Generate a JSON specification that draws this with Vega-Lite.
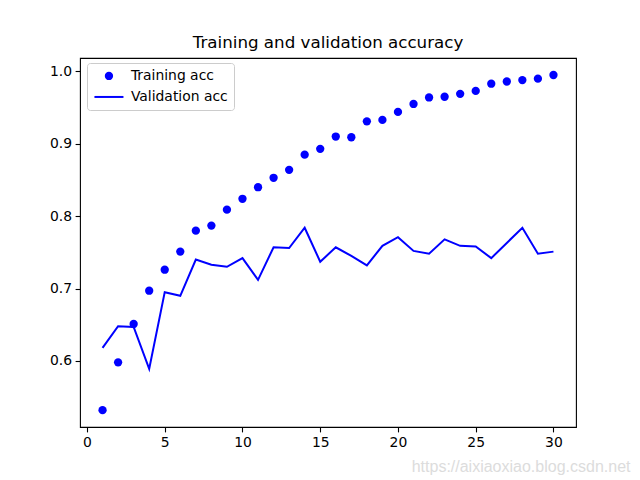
{
  "$schema": "https://vega.github.io/schema/vega-lite/v6.json",
  "width": 496,
  "height": 369,
  "autosize": {"type": "none"},
  "padding": {"left": 80, "top": 58, "right": 64, "bottom": 53},
  "background": "white",
  "title": {"text": "Training and validation accuracy", "font": "DejaVu Sans", "fontSize": 16.7, "fontWeight": "normal", "color": "black", "offset": 6},
  "config": {
    "view": {"stroke": "black", "strokeWidth": 1.1},
    "axis": {"domain": false, "grid": false, "labelFont": "DejaVu Sans", "labelFontSize": 13.9, "labelColor": "black", "tickColor": "black", "tickSize": 4.9, "tickWidth": 1.1, "labelPadding": 3.5},
    "legend": {
      "orient": "none", "legendX": 7, "legendY": 5,
      "labelFont": "DejaVu Sans", "labelFontSize": 13.9, "labelColor": "black",
      "symbolSize": 40, "padding": 6, "rowPadding": 5, "symbolOffset": 9, "labelOffset": 15,
      "fillColor": "white", "strokeColor": "#cccccc", "cornerRadius": 3,
      "symbolStrokeColor": "#0000ff", "symbolStrokeWidth": 2
    }
  },
  "datasets": {
    "training": [
      {"epoch": 1, "acc": 0.532, "series": "Training acc"},
      {"epoch": 2, "acc": 0.598, "series": "Training acc"},
      {"epoch": 3, "acc": 0.651, "series": "Training acc"},
      {"epoch": 4, "acc": 0.697, "series": "Training acc"},
      {"epoch": 5, "acc": 0.726, "series": "Training acc"},
      {"epoch": 6, "acc": 0.751, "series": "Training acc"},
      {"epoch": 7, "acc": 0.780, "series": "Training acc"},
      {"epoch": 8, "acc": 0.787, "series": "Training acc"},
      {"epoch": 9, "acc": 0.809, "series": "Training acc"},
      {"epoch": 10, "acc": 0.824, "series": "Training acc"},
      {"epoch": 11, "acc": 0.840, "series": "Training acc"},
      {"epoch": 12, "acc": 0.853, "series": "Training acc"},
      {"epoch": 13, "acc": 0.864, "series": "Training acc"},
      {"epoch": 14, "acc": 0.885, "series": "Training acc"},
      {"epoch": 15, "acc": 0.893, "series": "Training acc"},
      {"epoch": 16, "acc": 0.910, "series": "Training acc"},
      {"epoch": 17, "acc": 0.909, "series": "Training acc"},
      {"epoch": 18, "acc": 0.931, "series": "Training acc"},
      {"epoch": 19, "acc": 0.933, "series": "Training acc"},
      {"epoch": 20, "acc": 0.944, "series": "Training acc"},
      {"epoch": 21, "acc": 0.955, "series": "Training acc"},
      {"epoch": 22, "acc": 0.964, "series": "Training acc"},
      {"epoch": 23, "acc": 0.965, "series": "Training acc"},
      {"epoch": 24, "acc": 0.969, "series": "Training acc"},
      {"epoch": 25, "acc": 0.973, "series": "Training acc"},
      {"epoch": 26, "acc": 0.983, "series": "Training acc"},
      {"epoch": 27, "acc": 0.986, "series": "Training acc"},
      {"epoch": 28, "acc": 0.988, "series": "Training acc"},
      {"epoch": 29, "acc": 0.990, "series": "Training acc"},
      {"epoch": 30, "acc": 0.995, "series": "Training acc"}
    ],
    "validation": [
      {"epoch": 1, "acc": 0.618, "series": "Validation acc"},
      {"epoch": 2, "acc": 0.648, "series": "Validation acc"},
      {"epoch": 3, "acc": 0.647, "series": "Validation acc"},
      {"epoch": 4, "acc": 0.589, "series": "Validation acc"},
      {"epoch": 5, "acc": 0.695, "series": "Validation acc"},
      {"epoch": 6, "acc": 0.690, "series": "Validation acc"},
      {"epoch": 7, "acc": 0.740, "series": "Validation acc"},
      {"epoch": 8, "acc": 0.733, "series": "Validation acc"},
      {"epoch": 9, "acc": 0.730, "series": "Validation acc"},
      {"epoch": 10, "acc": 0.742, "series": "Validation acc"},
      {"epoch": 11, "acc": 0.712, "series": "Validation acc"},
      {"epoch": 12, "acc": 0.757, "series": "Validation acc"},
      {"epoch": 13, "acc": 0.756, "series": "Validation acc"},
      {"epoch": 14, "acc": 0.784, "series": "Validation acc"},
      {"epoch": 15, "acc": 0.737, "series": "Validation acc"},
      {"epoch": 16, "acc": 0.757, "series": "Validation acc"},
      {"epoch": 17, "acc": 0.745, "series": "Validation acc"},
      {"epoch": 18, "acc": 0.732, "series": "Validation acc"},
      {"epoch": 19, "acc": 0.759, "series": "Validation acc"},
      {"epoch": 20, "acc": 0.771, "series": "Validation acc"},
      {"epoch": 21, "acc": 0.752, "series": "Validation acc"},
      {"epoch": 22, "acc": 0.748, "series": "Validation acc"},
      {"epoch": 23, "acc": 0.768, "series": "Validation acc"},
      {"epoch": 24, "acc": 0.759, "series": "Validation acc"},
      {"epoch": 25, "acc": 0.758, "series": "Validation acc"},
      {"epoch": 26, "acc": 0.742, "series": "Validation acc"},
      {"epoch": 27, "acc": 0.763, "series": "Validation acc"},
      {"epoch": 28, "acc": 0.784, "series": "Validation acc"},
      {"epoch": 29, "acc": 0.748, "series": "Validation acc"},
      {"epoch": 30, "acc": 0.751, "series": "Validation acc"}
    ]
  },
  "encoding": {
    "x": {
      "field": "epoch", "type": "quantitative",
      "scale": {"domain": [-0.45, 31.45], "nice": false, "zero": false},
      "axis": {"values": [0, 5, 10, 15, 20, 25, 30], "format": "d",
        "title": "https://aixiaoxiao.blog.csdn.net", "titleFont": "Liberation Sans", "titleFontSize": 16, "titleFontWeight": "normal", "titleColor": "#dcdcdc",
        "titleAnchor": "end", "titleAlign": "right", "titleBaseline": "alphabetic", "titleX": 550, "titleY": 44}
    },
    "y": {
      "field": "acc", "type": "quantitative",
      "scale": {"domain": [0.5087, 1.0185], "nice": false, "zero": false},
      "axis": {"values": [0.6, 0.7, 0.8, 0.9, 1.0], "format": ".1f", "title": null}
    },
    "color": {
      "field": "series", "type": "nominal",
      "scale": {"domain": ["Training acc", "Validation acc"], "range": ["#0000ff", "#0000ff"]},
      "legend": {"title": null}
    }
  },
  "layer": [
    {
      "data": {"name": "training"},
      "mark": {"type": "point", "filled": true, "opacity": 1, "size": 69, "strokeWidth": 0},
      "encoding": {
        "shape": {
          "field": "series", "type": "nominal",
          "scale": {"domain": ["Training acc", "Validation acc"], "range": ["circle", "M-4.59,0H4.59"]},
          "legend": {"title": null}
        }
      }
    },
    {
      "data": {"name": "validation"},
      "mark": {"type": "line", "strokeWidth": 2}
    }
  ]
}
